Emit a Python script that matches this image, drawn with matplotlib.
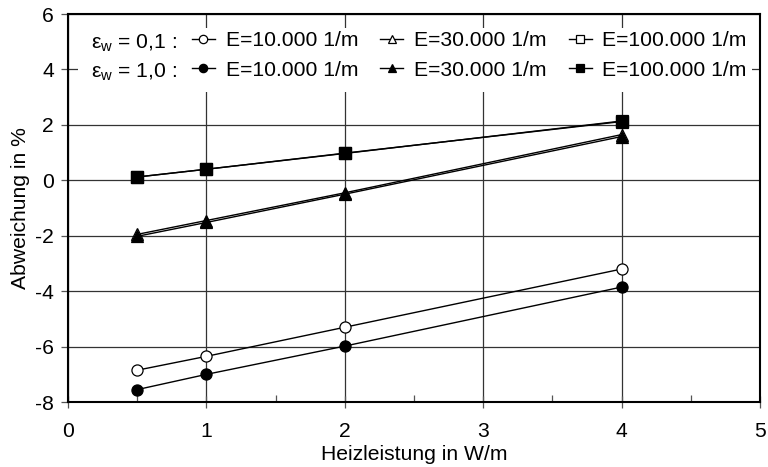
import matplotlib
matplotlib.use("Agg")
import matplotlib.pyplot as plt
from matplotlib.lines import Line2D
from matplotlib.patches import Rectangle

plt.rcParams['font.family'] = ['Liberation Sans', 'DejaVu Sans']
plt.rcParams['mathtext.fontset'] = 'custom'
plt.rcParams['mathtext.rm'] = 'Liberation Sans'
plt.rcParams['mathtext.it'] = 'Liberation Sans:italic'
plt.rcParams['axes.unicode_minus'] = False

x = [0.5, 1, 2, 4]
# eps_w = 0,1 (open markers)
open_circle = [-6.85, -6.35, -5.3, -3.2]
open_triangle = [-1.95, -1.45, -0.45, 1.65]
open_square = [0.12, 0.40, 0.98, 2.12]
# eps_w = 1,0 (filled markers)
fill_circle = [-7.55, -7.0, -5.98, -3.85]
fill_triangle = [-2.02, -1.52, -0.5, 1.58]
fill_square = [0.12, 0.40, 0.97, 2.14]

labels = ["E=10.000 1/m", "E=30.000 1/m", "E=100.000 1/m"]
row_labels = ["ε$_\\mathrm{w}$ = 0,1 :", "ε$_\\mathrm{w}$ = 1,0 :"]
xticks = [0, 1, 2, 3, 4, 5]
yticks = [-8, -6, -4, -2, 0, 2, 4, 6]

FS = 15.2
fig = plt.figure(figsize=(7.68, 4.67), dpi=100)
ax = fig.add_axes([0.0885, 0.139, 0.9011, 0.831])

ms = 8
series = [
    (open_circle, 'o', 'white'), (open_triangle, '^', 'white'), (open_square, 's', 'white'),
    (fill_circle, 'o', 'black'), (fill_triangle, '^', 'black'), (fill_square, 's', 'black'),
]
for ys, m, fc in series:
    ax.plot(x, ys, color='black', lw=1.0, marker=m, ms=ms, mfc=fc, mec='black', mew=0.9, zorder=3)

ax.set_xlim(0, 5)
ax.set_ylim(-8, 6)
ax.set_xticks(xticks)
ax.set_yticks(yticks)
ax.set_xticks([0.5, 1.5, 2.5, 3.5, 4.5], minor=True)
ax.grid(True, which='major', color='#333333', lw=0.9)
ax.tick_params(axis='x', which='major', direction='inout', length=8, width=0.9, labelsize=FS, color='#555555', pad=10)
ax.tick_params(axis='x', which='minor', direction='in', length=5, width=0.9, color='#555555')
ax.tick_params(axis='y', which='major', direction='out', length=5, width=0.9, labelsize=FS, color='#555555', pad=5)
for s in ax.spines.values():
    s.set_linewidth(1.5)
    s.set_color('black')
ax.set_xlabel("Heizleistung in W/m", fontsize=FS, labelpad=3)
ax.set_ylabel("Abweichung in %", fontsize=FS, labelpad=4)

# white background block behind the legend area (covers grid lines)
ax.add_patch(Rectangle((78/768, 1 - 92/467), (752 - 78)/768, (92 - 28)/467,
                       transform=fig.transFigure, facecolor='white', edgecolor='none', zorder=2.5))

handles = []
lms = 6
for m in ['o', '^', 's']:
    handles.append(Line2D([], [], color='black', lw=1.0, marker=m, ms=lms, mfc='white', mec='black', mew=0.9))
    handles.append(Line2D([], [], color='black', lw=1.0, marker=m, ms=lms, mfc='black', mec='black', mew=0.9))
leg_labels = [labels[0], labels[0], labels[1], labels[1], labels[2], labels[2]]
leg = ax.legend(handles, leg_labels, ncol=3, loc='upper right',
                bbox_to_anchor=(750/768, 1 - 28/467), bbox_transform=fig.transFigure,
                frameon=False, fontsize=FS, handlelength=1.1, handletextpad=0.5,
                columnspacing=1.05, labelspacing=0.5, borderpad=0.15, borderaxespad=0.0)
leg.set_zorder(5)

for i, yy in enumerate([43, 72]):
    fig.text(91/768, 1 - yy/467, row_labels[i], fontsize=FS, va='center', ha='left', zorder=6)

fig.savefig("out.png", dpi=100)
